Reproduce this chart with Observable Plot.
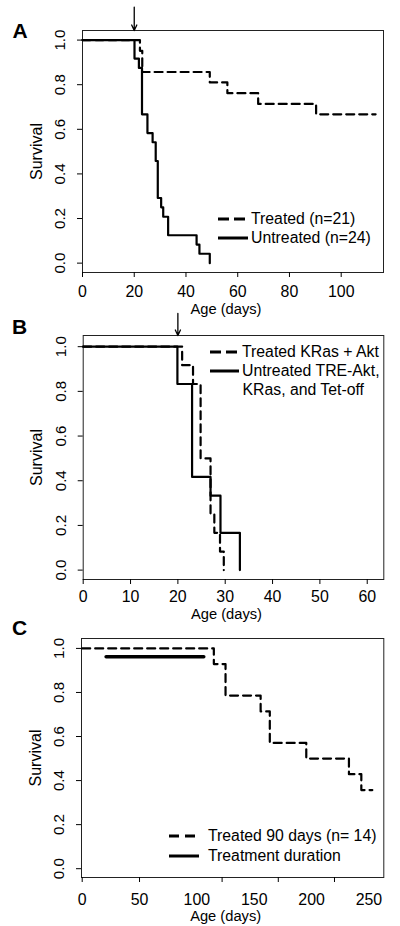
<!DOCTYPE html>
<html><head><meta charset="utf-8">
<script src="https://cdn.jsdelivr.net/npm/d3@7"></script>
<script src="https://cdn.jsdelivr.net/npm/@observablehq/plot@0.6"></script>
<style>
body{margin:0;background:#fff;}
#wrap{position:relative;width:400px;height:926px;overflow:hidden;background:#fff;font-family:"Liberation Sans",Arial,sans-serif;}
.panel{position:absolute;left:0;width:400px;}
.row{position:absolute;height:20px;display:flex;align-items:center;color:#000;white-space:nowrap;}
.row svg{display:block;margin-right:3px;}
</style></head>
<body><div id="wrap"></div>
<script>
// ---- data ----
const survTicks = [0, 0.2, 0.4, 0.6, 0.8, 1.0];

// Panel A
const ageTicksA = [0, 20, 40, 60, 80, 100];
const treatedA_day  = [0, 22.2, 23.1, 49.2, 56.0, 67.9, 90.3, 113.3];
const treatedA_surv = [1, 0.952, 0.857, 0.810, 0.762, 0.714, 0.667, 0.667];
const untreatedA_day  = [0, 20.1, 21.8, 23.0, 25.1, 27.1, 28.3, 29.1, 30.4, 31.2, 33.1, 44.1, 45.2, 49.2];
const untreatedA_surv = [1, 0.917, 0.875, 0.667, 0.583, 0.542, 0.458, 0.292, 0.25, 0.208, 0.125, 0.083, 0.042, 0];
const treatStartA = [20];
const legendA = ["Treated (n=21)", "Untreated (n=24)"];

// Panel B
const ageTicksB = [0, 10, 20, 30, 40, 50, 60];
const treatedB_day  = [0, 20.9, 23.2, 24.8, 26.9, 27.7, 28.9, 29.7];
const treatedB_surv = [1, 0.917, 0.833, 0.5, 0.25, 0.167, 0.083, 0];
const untreatedB_day  = [0, 19.9, 23.0, 26.9, 29.0, 33.1];
const untreatedB_surv = [1, 0.833, 0.417, 0.333, 0.167, 0];
const treatStartB = [20];
const legendB = ["Treated KRas + Akt", "Untreated TRE-Akt,", "KRas, and Tet-off"];

// Panel C
const ageTickMarksC = [0, 50, 122, 171, 220];
const ageTickLabelsC = [0, 50, 100, 150, 200, 250];
const treatedC_day  = [0, 114.8, 125.0, 155.6, 163.6, 195.4, 232.6, 243.4, 253.0];
const treatedC_surv = [1, 0.929, 0.786, 0.714, 0.571, 0.5, 0.429, 0.357, 0.357];
const durationC_day = [20.9, 106.0];
const durationC_level = 0.962;
const legendC = ["Treated 90 days (n= 14)", "Treatment duration"];

// ---- helpers ----
const FONT = "'Liberation Sans', Arial, sans-serif";
const DASH = "8,5";
const zip = (days, surv) => days.map((d, i) => ({day: d, surv: surv[i]}));

// pick font sizes so that texts take the width they take in the reference
const ctx = document.createElement("canvas").getContext("2d");
function fit(text, target, weight = "normal") {
  ctx.font = `${weight} 100px ${FONT}`;
  return Math.round(100 * target / ctx.measureText(text).width * 10) / 10;
}
const SZ_LEGEND = Math.min(17, fit("Untreated (n=24)", 120));
const SZ_TICKX = Math.min(17, fit("100", 26.5));
const SZ_TICKY = Math.min(16, fit("1.0", 21));
const SZ_TITLE = Math.min(16.5, fit("Age (days)", 71));
const SZ_SURV = Math.min(17, fit("Survival", 57));
const SZ_LETTER = 21;

function panel(o) {
  const marks = [
    Plot.frame({stroke: "#222", strokeWidth: 1}),
    Plot.axisX({ticks: o.xTickMarks, tickSize: 5, anchor: "bottom", stroke: "#000", tickFormat: () => "", label: null}),
    Plot.axisX({ticks: o.xTickLabels, tickSize: 0, tickPadding: o.tickPad + 5, anchor: "bottom", fontSize: SZ_TICKX, fill: "#000", label: null}),
    Plot.axisY({ticks: survTicks, tickSize: 5, anchor: "left", stroke: "#000", tickFormat: () => "", label: null}),
    Plot.text(survTicks, {y: d => d, text: d => d.toFixed(1), frameAnchor: "left", rotate: -90, dx: -22, textAnchor: "middle", lineAnchor: "middle", fontSize: SZ_TICKY, fill: "#000"}),
    Plot.text(["Survival"], {frameAnchor: "left", rotate: -90, dx: -46, textAnchor: "middle", lineAnchor: "middle", fontSize: SZ_SURV, fill: "#000"}),
    Plot.text(["Age (days)"], {frameAnchor: "bottom", dy: o.titleDy, dx: -7, textAnchor: "middle", lineAnchor: "middle", fontSize: SZ_TITLE, fill: "#000"}),
    Plot.text([o.letter], {frameAnchor: "top-left", dx: o.letterDx, dy: o.letterDy, fontSize: SZ_LETTER, fontWeight: "bold", textAnchor: "middle", lineAnchor: "middle", fill: "#000"})
  ];
  if (o.arrow) {
    marks.push(Plot.arrow(o.arrow, {x: d => d, y1: o.y[1] + o.arrowLen, y2: o.y[1], stroke: "#000", strokeWidth: 1.3, headLength: 7, headAngle: 50}));
  }
  for (const s of o.series) {
    marks.push(Plot.line(s.data, {x: "day", y: "surv", curve: s.curve || "step-after", stroke: "#000",
      strokeWidth: s.width || 2.2, strokeDasharray: s.dash || null}));
  }
  return Plot.plot({
    width: 400, height: o.height,
    marginTop: o.mt, marginBottom: o.mb, marginLeft: o.ml, marginRight: o.mr,
    style: {fontFamily: FONT, fontSize: "15px", color: "#000", background: "transparent", overflow: "visible"},
    x: {domain: o.x, axis: null},
    y: {domain: o.y, axis: null},
    marks
  });
}

const wrap = document.getElementById("wrap");
function place(node, top) {
  const d = document.createElement("div");
  d.className = "panel"; d.style.top = top + "px";
  d.appendChild(node); wrap.appendChild(d);
}
function legendRow(cx, cy, lineLen, dash, width, text, gap) {
  const r = document.createElement("div");
  r.className = "row"; r.style.left = cx + "px"; r.style.top = (cy - 10) + "px";
  r.style.fontSize = SZ_LEGEND + "px";
  if (lineLen) {
    const ns = "http://www.w3.org/2000/svg";
    const svg = document.createElementNS(ns, "svg");
    svg.setAttribute("width", lineLen); svg.setAttribute("height", 20);
    svg.style.marginRight = gap + "px";
    const l = document.createElementNS(ns, "line");
    l.setAttribute("x1", 0); l.setAttribute("x2", lineLen); l.setAttribute("y1", 10); l.setAttribute("y2", 10);
    l.setAttribute("stroke", "#000"); l.setAttribute("stroke-width", width);
    if (dash) l.setAttribute("stroke-dasharray", dash);
    svg.appendChild(l); r.appendChild(svg);
  }
  const s = document.createElement("span"); s.textContent = text; r.appendChild(s);
  wrap.appendChild(r);
}

// Panel A
place(panel({
  letter: "A", letterDx: -62.5, letterDy: 1,
  height: 315, mt: 30, mb: 43, ml: 82, mr: 17,
  x: [0, 116.35], y: [-0.042, 1.043],
  xTickMarks: ageTicksA, xTickLabels: ageTicksA, tickPad: 8.5, titleDy: 37,
  arrow: treatStartA, arrowLen: 0.105,
  series: [
    {data: zip(treatedA_day, treatedA_surv), dash: DASH},
    {data: zip(untreatedA_day, untreatedA_surv)}
  ]
}), 0);
legendRow(218, 219, 30, "11,5", 3, legendA[0], 3);
legendRow(218, 237.5, 30, null, 3, legendA[1], 3);

// Panel B
place(panel({
  letter: "B", letterDx: -63.5, letterDy: -8,
  height: 307, mt: 20, mb: 43, ml: 82.7, mr: 16.7,
  x: [0, 63.5], y: [-0.042, 1.05],
  xTickMarks: ageTicksB, xTickLabels: ageTicksB, tickPad: 6.5, titleDy: 34.5,
  arrow: treatStartB, arrowLen: 0.099,
  series: [
    {data: zip(treatedB_day, treatedB_surv), dash: DASH},
    {data: zip(untreatedB_day, untreatedB_surv)}
  ]
}), 315);
legendRow(210, 352, 29, "11,5", 3, legendB[0], 3);
legendRow(210, 370.5, 29, null, 3, legendB[1], 3);
legendRow(242.5, 390, 0, null, 0, legendB[2], 0);

// Panel C
place(panel({
  letter: "C", letterDx: -62, letterDy: -10,
  height: 304, mt: 16, mb: 49, ml: 81, mr: 16.7,
  x: [-0.6, 263], y: [-0.04, 1.045],
  xTickMarks: ageTickMarksC, xTickLabels: ageTickLabelsC, tickPad: 11.5, titleDy: 38.5,
  series: [
    {data: zip(treatedC_day, treatedC_surv), dash: DASH},
    {data: durationC_day.map(d => ({day: d, surv: durationC_level})), curve: "linear", width: 3.6}
  ]
}), 622);
legendRow(169, 836, 30, "10,6", 3, legendC[0], 9);
legendRow(169, 856, 30, null, 3, legendC[1], 9);
</script></body></html>
